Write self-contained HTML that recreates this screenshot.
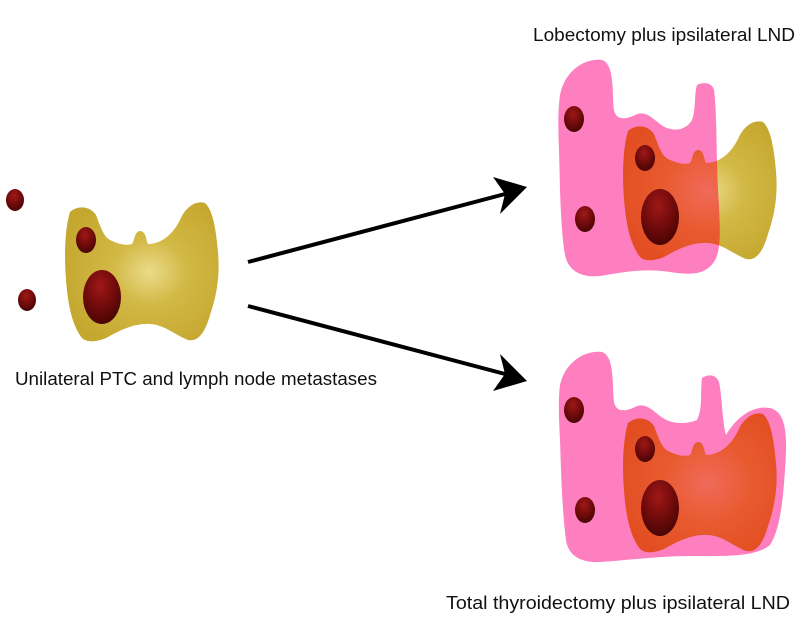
<!DOCTYPE html>
<html><head><meta charset="utf-8"><style>
html,body{margin:0;padding:0;background:#fff;width:798px;height:629px;overflow:hidden}
svg text{font-family:"Liberation Sans",sans-serif;font-size:18px;fill:#111}
</style></head><body>
<svg width="798" height="629" viewBox="0 0 798 629" xmlns="http://www.w3.org/2000/svg">
<defs>
<radialGradient id="yg" cx="0.55" cy="0.5" r="0.6"><stop offset="0" stop-color="#eadb8a"/><stop offset="0.4" stop-color="#d2b845"/><stop offset="1" stop-color="#c4a72e"/></radialGradient>
<radialGradient id="og" cx="0.55" cy="0.5" r="0.6"><stop offset="0" stop-color="#f06a5a"/><stop offset="0.5" stop-color="#e85a2e"/><stop offset="1" stop-color="#e24e22"/></radialGradient>
<radialGradient id="ng" cx="0.45" cy="0.3" r="0.7"><stop offset="0" stop-color="#a01818"/><stop offset="0.6" stop-color="#6e0a0a"/><stop offset="1" stop-color="#4a0505"/></radialGradient>
<path id="thy" d="M70,212 C78,205 90,206 96,215 C100,225 103,236 110,240 C118,244 126,246 132,244 C135,240 134,232 140,231 C146,231 146,240 148,244 C160,244 172,236 180,220 C185,208 195,200 205,203 C213,210 216,230 218,252 C220,275 217,295 210,315 C205,333 198,342 188,340 C175,335 165,325 150,324 C135,323 120,330 108,337 C98,342 87,343 82,338 C72,325 68,305 66,280 C64,255 65,228 70,212 Z"/>
<path id="pinkT" d="M560,95 C565,70 585,58 602,60 C615,64 612,95 614,110 C616,120 625,120 635,115 C645,110 652,118 660,124 C670,132 685,132 692,120 C696,110 694,95 697,85 C703,82 712,82 714,90 C717,110 716,150 718,190 C720,225 722,250 714,262 C706,273 695,276 670,272 C645,268 625,272 600,276 C580,278 568,270 565,255 C560,225 560,180 559,150 C558,125 558,110 560,95 Z"/>
<path id="pinkB" d="M560,385 C565,362 585,350 602,352 C615,356 612,387 614,402 C616,412 625,412 635,407 C645,402 652,410 660,416 C670,424 685,425 697,420 C703,408 700,395 702,378 C708,374 716,374 719,382 C722,395 722,420 726,435 C736,418 752,405 770,408 C785,412 788,430 785,470 C783,500 780,530 770,545 C755,558 720,556 690,556 C660,556 630,560 600,562 C580,563 568,555 566,540 C562,510 561,470 560,440 C559,420 558,400 560,385 Z"/>
<clipPath id="cpT"><use href="#pinkT"/></clipPath>
</defs>

<use href="#thy" fill="url(#yg)"/>
<ellipse cx="15" cy="200" rx="9" ry="11" fill="url(#ng)"/>
<ellipse cx="27" cy="300" rx="9" ry="11" fill="url(#ng)"/>
<ellipse cx="86" cy="240" rx="10" ry="13" fill="url(#ng)"/>
<ellipse cx="102" cy="297" rx="19" ry="27" fill="url(#ng)"/>
<text x="15" y="385" textLength="362" lengthAdjust="spacingAndGlyphs">Unilateral PTC and lymph node metastases</text>

<line x1="248" y1="262" x2="505" y2="194" stroke="#000" stroke-width="4"/>
<polygon points="527,187 493,177 505,194 500,214" fill="#000"/>
<line x1="248" y1="306" x2="505" y2="374" stroke="#000" stroke-width="4"/>
<polygon points="527,381 500,354 505,374 493,391" fill="#000"/>

<g transform="translate(558,-81)"><use href="#thy" fill="url(#yg)"/></g>
<use href="#pinkT" fill="#fe7fc0"/>
<g clip-path="url(#cpT)"><g transform="translate(558,-81)"><use href="#thy" fill="url(#og)"/></g></g>
<ellipse cx="574" cy="119" rx="10" ry="13" fill="url(#ng)"/>
<ellipse cx="585" cy="219" rx="10" ry="13" fill="url(#ng)"/>
<ellipse cx="645" cy="158" rx="10" ry="13" fill="url(#ng)"/>
<ellipse cx="660" cy="217" rx="19" ry="28" fill="url(#ng)"/>
<text x="533" y="41" textLength="262" lengthAdjust="spacingAndGlyphs">Lobectomy plus ipsilateral LND</text>

<use href="#pinkB" fill="#fe7fc0"/>
<g transform="translate(558,211)"><use href="#thy" fill="url(#og)"/></g>
<ellipse cx="574" cy="410" rx="10" ry="13" fill="url(#ng)"/>
<ellipse cx="585" cy="510" rx="10" ry="13" fill="url(#ng)"/>
<ellipse cx="645" cy="449" rx="10" ry="13" fill="url(#ng)"/>
<ellipse cx="660" cy="508" rx="19" ry="28" fill="url(#ng)"/>
<text x="446" y="609" textLength="344" lengthAdjust="spacingAndGlyphs">Total thyroidectomy plus ipsilateral LND</text>
</svg>
</body></html>
